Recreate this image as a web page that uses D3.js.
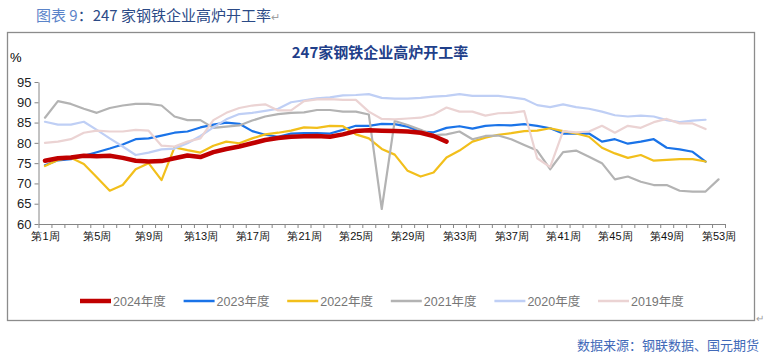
<!DOCTYPE html>
<html>
<head>
<meta charset="utf-8">
<script src="https://cdn.jsdelivr.net/npm/d3@7"></script>
<style>
  body { margin: 0; background: #fff; }
  svg { display: block; font-family: "Liberation Sans", "Noto Sans CJK SC", sans-serif; }
</style>
</head>
<body>
<div id="chart"></div>
<script>
// weekly blast furnace utilisation, %, week 1..53
const years = ['2024年度', '2023年度', '2022年度', '2021年度', '2020年度', '2019年度'];
const colors = ['#C00000', '#1A73E8', '#F2BF1B', '#B3B3B3', '#BFCFF5', '#EBD3D3'];
const widths = [4.5, 2.2, 2.2, 2.2, 2.2, 2.2];

const y2024 = [75.6, 76.2, 76.4, 76.8, 76.7, 76.8, 76.3, 75.6, 75.4, 75.5, 76.2, 76.9, 76.5, 77.7, 78.5, 79.1,
  79.9, 80.7, 81.2, 81.5, 81.6, 81.7, 81.5, 82.1, 82.9, 83.1, 83.0, 82.9, 82.8, 82.5, 81.7, 80.3];
const y2023 = [74.5, 75.7, 76.0, 76.8, 77.7, 78.6, 79.6, 80.9, 81.1, 81.8, 82.5, 82.8, 83.8, 84.5, 85.0, 84.7,
  82.9, 82.0, 81.5, 82.3, 82.4, 82.4, 82.3, 83.2, 84.2, 84.2, 84.7, 84.6, 84.0, 82.8, 82.6, 83.7,
  84.1, 83.5, 84.2, 84.4, 84.3, 84.6, 84.2, 83.6, 82.3, 82.3, 82.3, 80.3, 80.9, 79.8, 80.3, 80.9,
  78.8, 78.4, 77.8, 75.4];
const y2022 = [74.3, 75.8, 76.3, 74.8, 71.5, 68.2, 69.6, 73.5, 75.0, 70.8, 78.9, 78.2, 77.6, 79.3, 80.3, 79.9,
  81.1, 82.1, 82.5, 83.0, 83.8, 83.7, 84.2, 84.1, 82.1, 81.1, 78.5, 77.1, 73.1, 71.7, 72.7, 76.4,
  78.1, 80.3, 81.3, 82.0, 82.4, 82.9, 83.0, 83.6, 82.9, 82.3, 81.5, 78.8, 77.4, 76.3, 77.0, 75.6,
  75.8, 76.0, 76.0, 75.4];
const y2021 = [86.2, 90.3, 89.6, 88.4, 87.4, 88.6, 89.2, 89.6, 89.6, 89.2, 86.5, 85.6, 85.6, 83.7, 84.0, 84.3,
  85.5, 86.5, 87.1, 87.4, 87.5, 88.1, 88.1, 87.7, 87.7, 87.0, 63.7, 85.4, 84.4, 83.2, 81.9, 82.1,
  82.8, 80.9, 81.7, 81.8, 80.9, 79.5, 78.1, 73.5, 77.7, 78.1, 76.6, 75.0, 71.0, 71.7, 70.4, 69.6,
  69.6, 68.2, 68.0, 68.0, 71.0];
const y2020 = [85.2, 84.5, 84.5, 85.2, 83.2, 81.1, 79.1, 77.0, 77.6, 78.4, 78.6, 79.9, 81.7, 83.8, 85.8, 87.1,
  87.4, 87.9, 88.4, 90.0, 90.5, 91.0, 91.2, 91.7, 91.8, 92.0, 91.1, 90.9, 90.9, 91.1, 91.4, 91.6,
  92.0, 91.6, 91.6, 91.6, 91.2, 90.8, 89.3, 88.8, 89.5, 88.8, 88.4, 87.7, 86.8, 86.5, 86.7, 86.5,
  85.6, 85.1, 85.5, 85.7];
const y2019 = [80.0, 80.3, 80.9, 82.5, 83.0, 82.8, 82.8, 83.2, 83.0, 79.3, 79.1, 80.3, 81.1, 85.6, 87.4, 88.6,
  89.2, 89.5, 88.0, 88.0, 90.3, 90.7, 90.8, 90.6, 90.6, 87.7, 85.9, 85.8, 86.0, 86.2, 87.0, 88.7,
  87.7, 87.7, 86.7, 87.3, 87.4, 87.8, 76.2, 74.0, 82.9, 82.6, 82.8, 84.2, 82.5, 84.2, 83.7, 85.1,
  85.9, 84.8, 84.8, 83.4];
const seriesValues = [y2024, y2023, y2022, y2021, y2020, y2019];

const weekCount = 53;
const xLabelWeeks = [1, 5, 9, 13, 17, 21, 25, 29, 33, 37, 41, 45, 49, 53];
const yTicks = [60, 65, 70, 75, 80, 85, 90, 95];

const W = 764, H = 354;
const svg = d3.select('#chart').append('svg')
  .attr('width', W)
  .attr('height', H);

// caption above the chart box
const cap = svg.append('text')
  .attr('x', 36)
  .attr('y', 21)
  .style('font-family', '"Noto Sans CJK SC", sans-serif')
  .style('font-size', '15px')
  .attr('xml:space', 'preserve');
cap.append('tspan').attr('fill', '#5B84C9').text('图表 9');
cap.append('tspan').attr('fill', '#2B4A86').text('：247 家钢铁企业高炉开工率');
cap.append('tspan').attr('fill', '#A0A0A0').style('font-size', '11px').text('↵');

// chart frame
svg.append('rect')
  .attr('x', 7.5).attr('y', 32.5)
  .attr('width', 747).attr('height', 288)
  .attr('fill', 'none')
  .attr('stroke', '#8C8C8C')
  .attr('stroke-width', 1.3);
svg.append('text')
  .attr('x', 756).attr('y', 322)
  .attr('fill', '#A0A0A0')
  .style('font-size', '10px')
  .text('↵');

// title
svg.append('text')
  .attr('x', 380).attr('y', 58)
  .attr('text-anchor', 'middle')
  .attr('fill', '#1F3F8A')
  .style('font-family', '"Noto Sans CJK SC", sans-serif')
  .style('font-weight', 700)
  .style('font-size', '15px')
  .text('247家钢铁企业高炉开工率');

svg.append('text')
  .attr('x', 10).attr('y', 62)
  .attr('fill', '#000')
  .style('font-size', '13px')
  .text('%');

// scales
const x = d3.scaleLinear().domain([0.5, weekCount + 0.5]).range([38.5, 725]);
const y = d3.scaleLinear().domain([60, 95]).range([224, 82]);

const axisColor = '#868686';

// y axis
const gy = svg.append('g')
  .attr('transform', `translate(${x(0.5)},0)`)
  .call(d3.axisLeft(y).tickValues(yTicks).tickSize(4).tickPadding(3).tickSizeOuter(0));
gy.select('.domain').attr('stroke', axisColor);
gy.selectAll('.tick line').attr('stroke', axisColor);
gy.selectAll('.tick text')
  .attr('fill', '#222')
  .style('font-size', '13px');

// x axis: ticks between weeks
const gx = svg.append('g')
  .attr('transform', `translate(0,${y(60)})`)
  .call(d3.axisBottom(x)
    .tickValues(d3.range(0.5, weekCount + 1, 1))
    .tickSize(4)
    .tickSizeOuter(0)
    .tickFormat(''));
gx.select('.domain').attr('stroke', axisColor);
gx.selectAll('.tick line').attr('stroke', axisColor);

const gxl = svg.append('g')
  .attr('transform', `translate(0,${y(60)})`)
  .call(d3.axisBottom(x)
    .tickValues(xLabelWeeks)
    .tickSize(0)
    .tickPadding(8)
    .tickFormat(d => `第${d}周`));
gxl.select('.domain').remove();
gxl.selectAll('.tick text')
  .attr('fill', '#111')
  .style('font-size', '11px');

// lines, later series drawn on top (Excel series order)
const line = d3.line()
  .x((d, i) => x(i + 1))
  .y(d => y(d))
  .curve(d3.curveLinear);

const plot = svg.append('g');
seriesValues.forEach((vals, k) => {
  plot.append('path')
    .datum(vals)
    .attr('fill', 'none')
    .attr('stroke', colors[k])
    .attr('stroke-width', widths[k])
    .attr('stroke-linejoin', 'round')
    .attr('stroke-linecap', 'round')
    .attr('d', line);
});
// keep the 2024 series visible above the others
plot.select('path').raise();

// legend
const legend = svg.append('g').attr('transform', 'translate(80,301)');
years.forEach((name, k) => {
  const item = legend.append('g').attr('transform', `translate(${k * 103.6},0)`);
  item.append('line')
    .attr('x1', 0).attr('x2', 31)
    .attr('stroke', colors[k])
    .attr('stroke-width', k === 0 ? 4.5 : 2.5);
  item.append('text')
    .attr('x', 33).attr('y', 4.5)
    .attr('fill', '#767676')
    .style('font-size', '12.5px')
    .text(name);
});

// source note
svg.append('text')
  .attr('x', 577).attr('y', 350)
  .attr('fill', '#4169B8')
  .style('font-family', '"Noto Sans CJK SC", sans-serif')
  .style('font-size', '13px')
  .text('数据来源：钢联数据、国元期货');
</script>
</body>
</html>
